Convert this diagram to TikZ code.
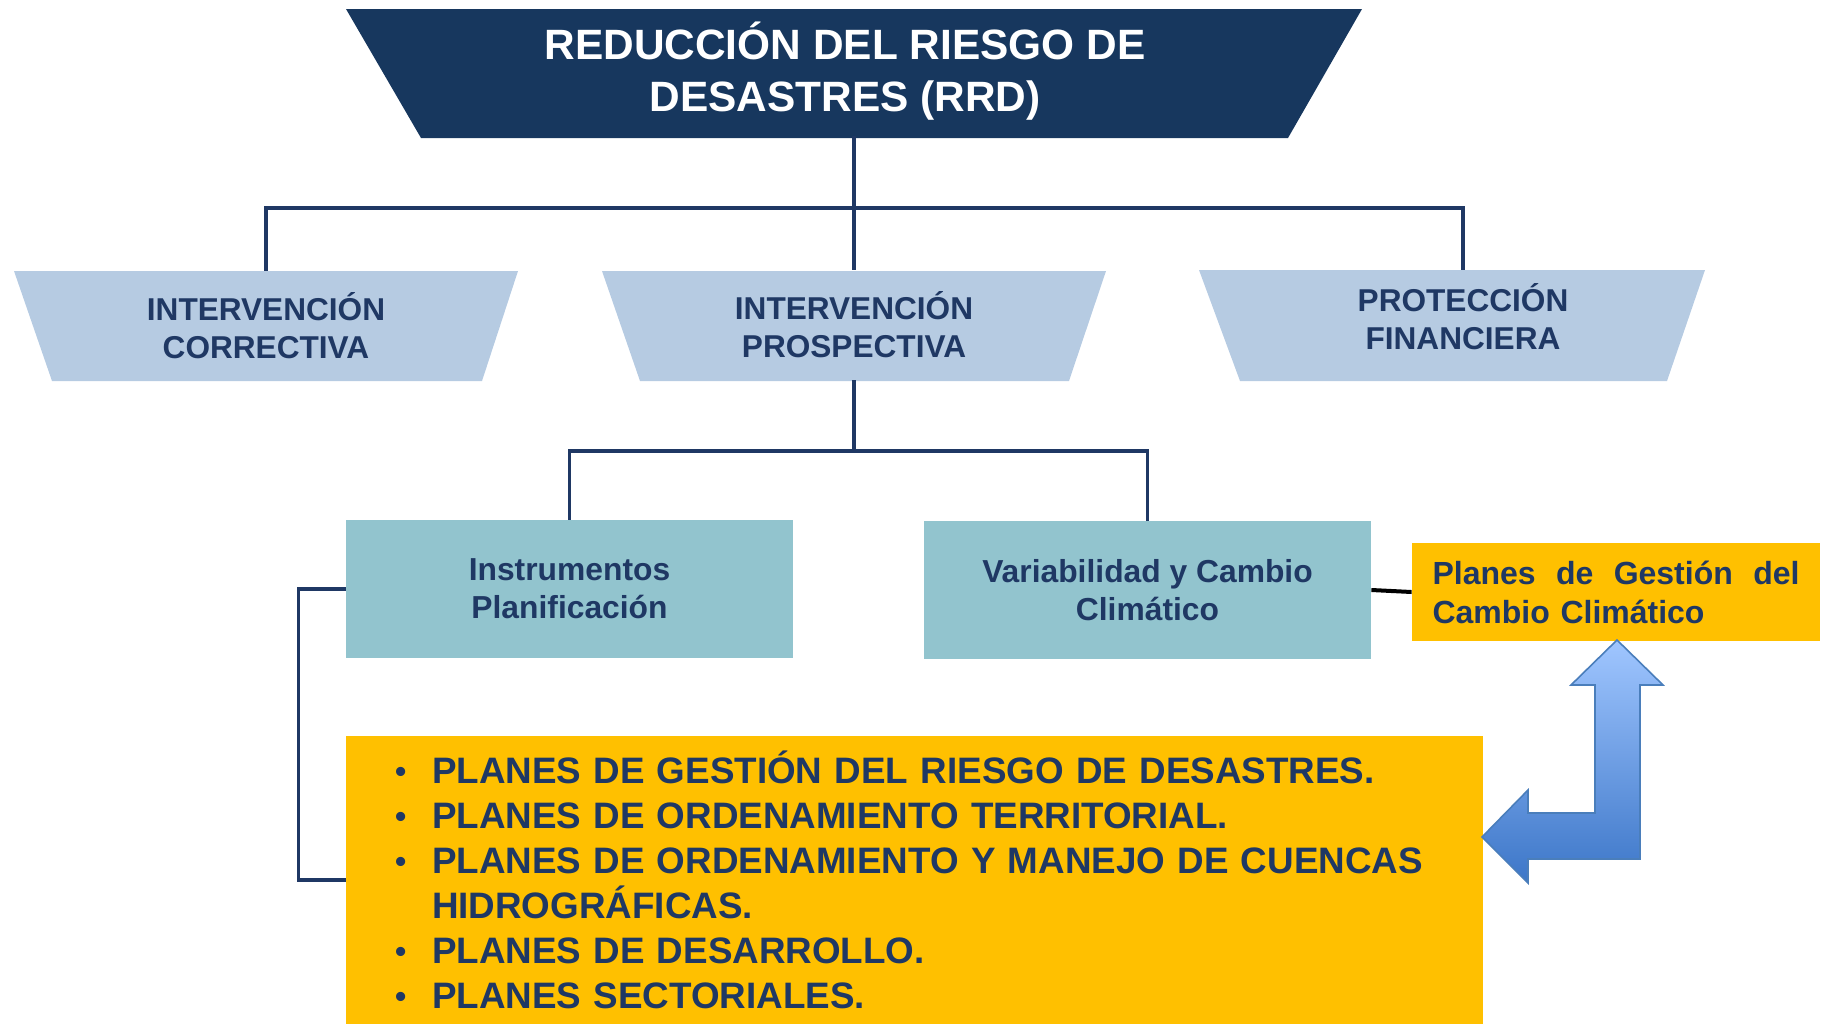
\documentclass[tikz,border=0pt]{standalone}
\usepackage{fontspec}
\setmainfont{Liberation Sans}
\usepackage{tikz}
\usetikzlibrary{positioning}

\definecolor{rrdnavy}{RGB}{23,55,94}
\definecolor{txtnavy}{RGB}{31,56,100}
\definecolor{lvlblue}{RGB}{182,203,226}
\definecolor{tealbox}{RGB}{146,196,206}
\definecolor{planorange}{RGB}{255,192,0}
\definecolor{arrowtop}{RGB}{160,198,255}
\definecolor{arrowbot}{RGB}{60,118,200}
\definecolor{arrowline}{RGB}{74,126,187}

% bullet item of the plan list
\newcommand{\planitem}[1]{\makebox[18.5pt][l]{\raisebox{0.8pt}{\fontsize{16}{16}\selectfont\textbullet}}\mbox{#1}}

\begin{document}
\begin{tikzpicture}[x=0.5pt, y=-0.5pt,
    conn/.style={draw=txtnavy, line width=1.8pt},
    toplabel/.style={rectangle, minimum width=400pt, minimum height=64.5pt,
        inner sep=0pt, text=white, align=center,
        font=\bfseries\fontsize{21.2}{26}\selectfont},
    lvllabel/.style={rectangle, minimum width=180pt, minimum height=55pt,
        inner sep=0pt, text=txtnavy, align=center,
        font=\bfseries\fontsize{15.8}{19}\selectfont},
    tealrect/.style={rectangle, minimum width=223.5pt, minimum height=69pt,
        inner sep=0pt, fill=tealbox, text=txtnavy, align=center,
        font=\bfseries\fontsize{15.9}{19}\selectfont},
    ccbox/.style={rectangle, minimum width=204pt, minimum height=49pt,
        inner sep=0pt, fill=planorange, text=txtnavy, text width=183.5pt,
        align=left, font=\bfseries\fontsize{16}{19.5}\selectfont},
    listbox/.style={rectangle, minimum width=568.5pt, minimum height=144pt,
        inner sep=0pt, fill=planorange, text=txtnavy, text width=519.5pt,
        align=left, font=\bfseries\fontsize{18.4}{22.5}\selectfont}]

    % Page frame
    \useasboundingbox (0,0) rectangle (1822,1024);

    % Trapezoid shapes
    \fill[rrdnavy] (346,9) -- (1362,9) -- (1288,138) -- (421,138) -- cycle;
    \fill[lvlblue] (14,271) -- (518,271) -- (482,381) -- (52,381) -- cycle;
    \fill[lvlblue] (602,271) -- (1106,271) -- (1069,381) -- (640,381) -- cycle;
    \fill[lvlblue] (1199,270) -- (1705,270) -- (1667,381) -- (1240,381) -- cycle;

    % Top level
    \node[toplabel] (rrd) at (845,71) {REDUCCIÓN DEL RIESGO DE\\DESASTRES (RRD)};

    % Second level
    \node[lvllabel] (corr)  at (266,326)  {INTERVENCIÓN\\CORRECTIVA};
    \node[lvllabel] (prosp) at (854,325)  {INTERVENCIÓN\\PROSPECTIVA};
    \node[lvllabel, minimum height=46.5pt] (fin) at (1463,316.5) {PROTECCIÓN\\FINANCIERA};

    % Third level
    \node[tealrect] (instr) at (569.5,589)  {Instrumentos\\Planificación};
    \node[tealrect] (vari)  at (1147.5,590) {Variabilidad y Cambio\\Climático};

    % Climate change plans
    \node[ccbox] (ccplan) at (1616,592)
        {Planes\hfill de\hfill Gestión\hfill del\\Cambio Climático};

    % List of plans
    \node[listbox] (plans) at (914.5,880)
        {\planitem{PLANES DE GESTIÓN DEL RIESGO DE DESASTRES.}\\
         \planitem{PLANES DE ORDENAMIENTO TERRITORIAL.}\\
         \planitem{PLANES DE ORDENAMIENTO Y MANEJO DE CUENCAS}\\
         \hspace*{18.5pt}HIDROGRÁFICAS.\\
         \planitem{PLANES DE DESARROLLO.}\\
         \planitem{PLANES SECTORIALES.}};

    % Tree connectors
    \coordinate (bus1) at (854,208);
    \coordinate (bus2) at (854,451);
    \draw[conn] (bus1 |- rrd.south) -- (bus1);
    \draw[conn] (bus1) -| (corr);
    \draw[conn] (bus1) -- (prosp);
    \draw[conn] (bus1) -| (fin);
    \draw[conn] (prosp) -- (bus2);
    \draw[conn] (bus2) -| (instr);
    \draw[conn] (bus2) -| (vari);

    % Bracket to the list
    \draw[conn] (instr.west) -- ++(-47,0) |- (plans.west);

    % Link to climate plans
    \draw[black, line width=2pt] (vari.east) -- (ccplan.west);

    % Bent double arrow
    \shade[top color=arrowtop, bottom color=arrowbot, draw=arrowline, line width=0.8pt]
        (1617,640) -- (1663,685) -- (1640,685) -- (1640,859) -- (1528,859)
        -- (1528,883) -- (1482,837) -- (1528,790) -- (1528,813) -- (1595,813)
        -- (1595,685) -- (1571,685) -- cycle;

\end{tikzpicture}
\end{document}
